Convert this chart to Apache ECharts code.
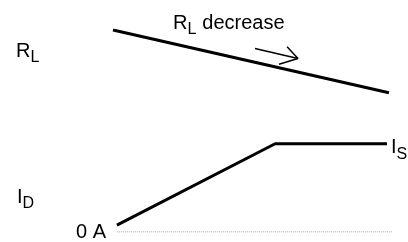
<!DOCTYPE html>
<html>
<head>
<meta charset="utf-8">
<script src="https://cdn.jsdelivr.net/npm/echarts@6/dist/echarts.min.js"></script>
<style>
  html, body { margin: 0; padding: 0; background: #ffffff; }
  #chart { width: 408px; height: 242px; }
</style>
</head>
<body>
<div id="chart"></div>
<script>
// schematic values, x = sweep position (0..100), y = relative level (0..100)
const rlLine = [[0, 100], [98.9, 68.9]];
const idLine = [[1.4, 3.4], [58.1, 43.7], [98.2, 43.7]];
const zeroLine = [[1.4, 0], [100, 0]];
const arrowShaft = [[50.9, 90.8], [66.3, 85.9]];
const arrowHead = [[62.4, 91.7], [66.3, 85.9], [59.5, 83.0]];
const yTickLabels = { 0: '0 A' };
const endLabelText = '{a|I}{b|S}';

const chart = echarts.init(document.getElementById('chart'));

const font = 'Liberation Sans, Arial, sans-serif';
const subRich = {
  a: { fontFamily: font, fontSize: 20, lineHeight: 21, verticalAlign: 'top', color: '#000' },
  b: { fontFamily: font, fontSize: 16, lineHeight: 16, padding: [9, 0, 0, 0], verticalAlign: 'top', color: '#000' },
  w: { fontFamily: font, fontSize: 20, lineHeight: 21, verticalAlign: 'top', color: '#000', padding: [0, 0, 0, 6] }
};

const blackLine = (data, width) => ({
  type: 'line',
  data: data,
  symbol: 'none',
  silent: true,
  lineStyle: { color: '#000', width: width }
});

const option = {
  animation: false,
  grid: { left: 113, right: 16, top: 30, bottom: 6, containLabel: false },
  xAxis: { type: 'value', min: 0, max: 100, show: false },
  yAxis: {
    type: 'value',
    min: 0,
    max: 100,
    interval: 100,
    axisLine: { show: false },
    axisTick: { show: false },
    splitLine: { show: false },
    axisLabel: {
      margin: 7,
      fontFamily: font,
      fontSize: 20,
      color: '#000',
      padding: [4, 0, 0, 0],
      formatter: v => yTickLabels[v] || ''
    }
  },
  series: [
    blackLine(rlLine, 3),
    Object.assign(blackLine(idLine, 3), {
      endLabel: {
        show: true,
        distance: 4,
        offset: [0, 4],
        formatter: endLabelText,
        rich: subRich
      }
    }),
    {
      type: 'line',
      data: zeroLine,
      symbol: 'none',
      silent: true,
      lineStyle: { color: '#888', width: 1, type: [1, 1] }
    },
    blackLine(arrowShaft, 1.5),
    blackLine(arrowHead, 1.5)
  ],
  graphic: [
    { type: 'text', left: 173, top: 13, style: { text: '{a|R}{b|L}{w|decrease}', rich: subRich } },
    { type: 'text', left: 16, top: 41, style: { text: '{a|R}{b|L}', rich: subRich } },
    { type: 'text', left: 17, top: 187, style: { text: '{a|I}{b|D}', rich: subRich } }
  ]
};

chart.setOption(option);
</script>
</body>
</html>
